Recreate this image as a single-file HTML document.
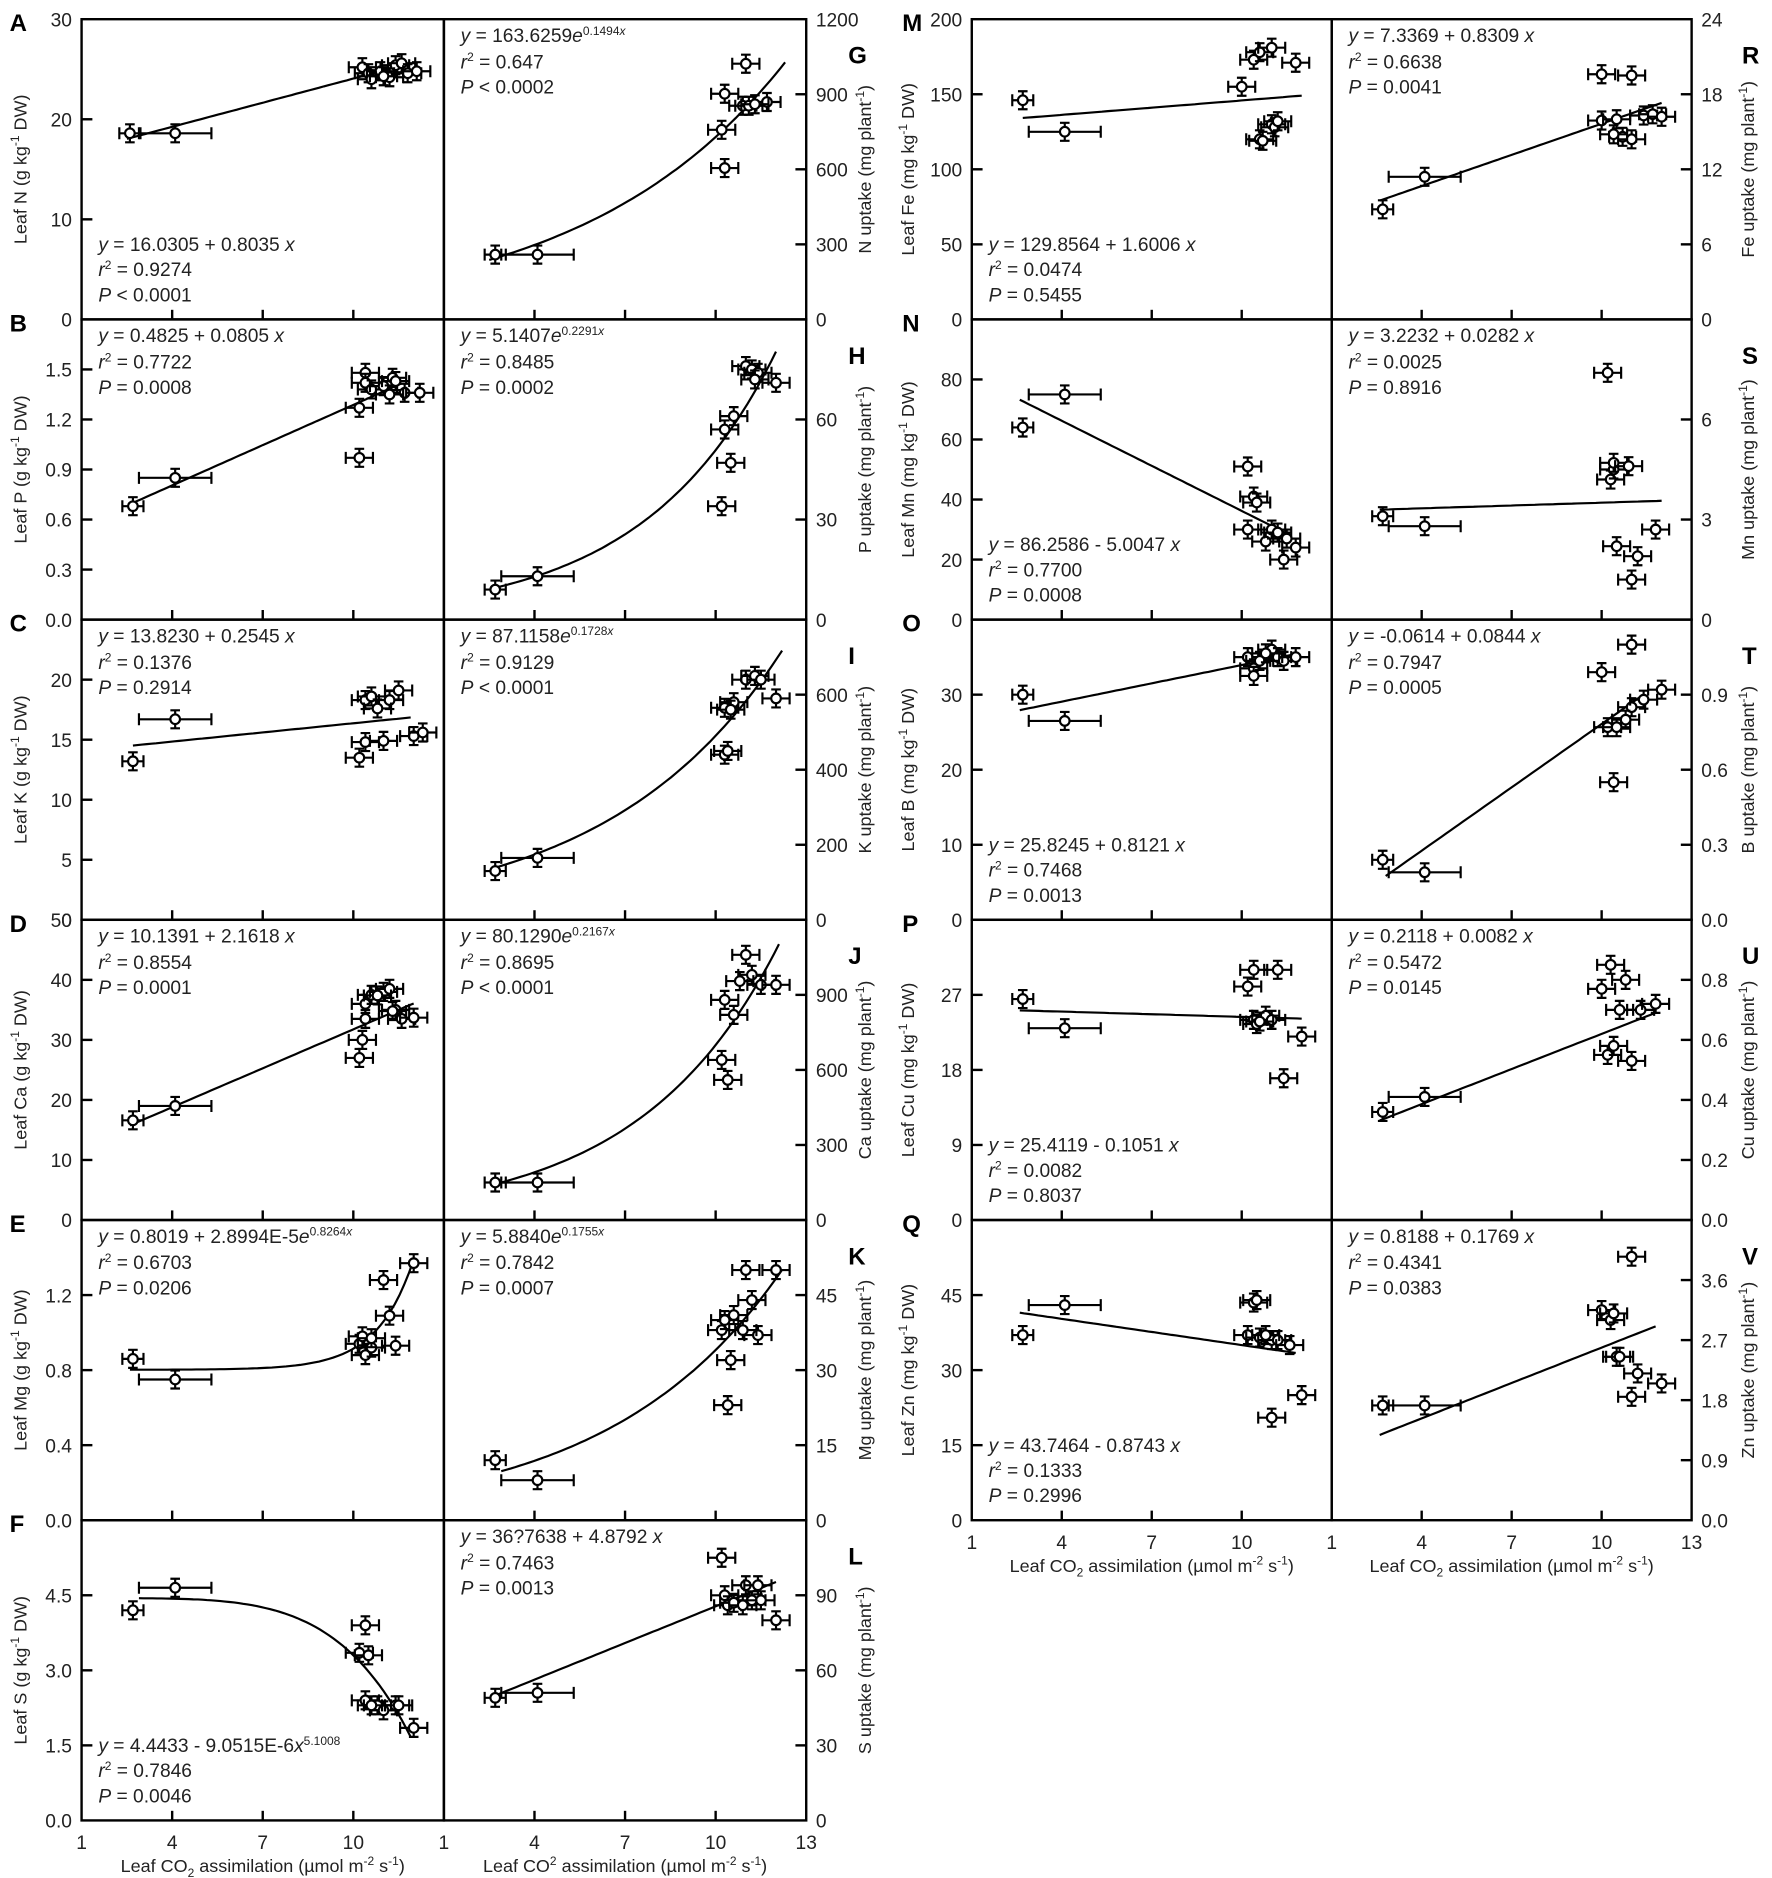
<!DOCTYPE html>
<html><head><meta charset="utf-8"><style>
html,body{margin:0;padding:0;background:#fff;}
svg{display:block;font-family:"Liberation Sans",Arial,sans-serif;}
</style></head><body>
<svg id="fig" width="1772" height="1878" viewBox="0 0 1477 1565" preserveAspectRatio="none" xmlns="http://www.w3.org/2000/svg"></svg>
<script>
// ---- data (x = leaf CO2 assimilation, y = nutrient value) ----
const ptsA=[[2.6,18.6],[4.1,18.6],[10.3,25.2],[10.5,24.6],[10.6,24.0],[10.9,24.8],[11.2,24.2],[11.4,25.4],[11.6,25.6],[11.8,24.6],[12.1,24.8],[11.0,24.3]];
const ptsG=[[2.7,259],[4.1,259],[11.0,1022],[10.3,902],[10.2,758],[10.3,605],[10.9,854],[11.1,854],[11.7,869],[11.3,860]];
const ptsB=[[2.7,0.68],[4.1,0.85],[10.2,1.27],[10.2,0.97],[10.4,1.48],[10.4,1.42],[10.6,1.38],[11.0,1.40],[11.3,1.45],[11.4,1.43],[11.7,1.36],[12.2,1.36],[11.2,1.35]];
const ptsH=[[2.7,9],[4.1,13],[10.2,34],[10.5,47],[10.3,57],[10.6,61],[11.0,76],[11.2,75],[11.4,74],[12.0,71],[11.3,72]];
const ptsC=[[2.7,13.2],[4.1,16.7],[10.2,13.5],[10.4,14.8],[10.4,18.3],[10.6,18.6],[11.0,14.9],[11.2,18.3],[11.5,19.1],[12.0,15.3],[12.3,15.6],[10.8,17.6]];
const ptsI=[[2.7,130],[4.1,165],[10.3,440],[10.4,450],[10.3,565],[10.6,580],[11.0,640],[11.3,650],[11.5,640],[12.0,590],[10.5,560]];
const ptsD=[[2.7,16.6],[4.1,19],[10.2,27],[10.3,30],[10.4,33.5],[10.4,36],[10.6,37.5],[11.0,38],[11.2,38.5],[11.4,35],[11.6,33.5],[12.0,33.7],[10.8,37.4],[11.3,34.8]];
const ptsJ=[[2.7,150],[4.1,150],[10.2,640],[10.4,560],[10.3,880],[10.6,820],[11.0,1060],[11.2,980],[11.5,940],[12.0,940],[10.8,955]];
const ptsE=[[2.7,0.86],[4.1,0.75],[10.2,0.94],[10.3,0.98],[10.4,0.88],[10.6,0.92],[11.0,1.28],[11.2,1.09],[11.4,0.93],[12.0,1.37],[10.6,0.97]];
const ptsK=[[2.7,12],[4.1,8],[10.2,38],[10.3,40],[10.5,32],[10.4,23],[10.6,41],[11.0,50],[11.2,44],[11.4,37],[12.0,50],[10.9,38]];
const ptsF=[[2.7,4.2],[4.1,4.65],[10.2,3.35],[10.4,3.9],[10.5,3.3],[10.4,2.4],[10.8,2.3],[11.0,2.2],[11.4,2.3],[11.5,2.3],[12.0,1.85],[10.6,2.3]];
const ptsL=[[2.7,49],[4.1,51],[10.2,105],[10.3,90],[10.4,86],[10.6,87],[11.0,94],[11.2,88],[11.4,94],[12.0,80],[11.5,88],[10.9,86]];
const ptsM=[[2.7,146],[4.1,125],[10.0,155],[10.4,173],[10.6,178],[11.0,181],[11.8,171],[11.0,130],[11.1,128],[10.6,120],[10.7,119],[11.2,132]];
const ptsR=[[2.7,8.8],[4.1,11.4],[10.0,19.6],[11.0,19.5],[10.0,15.9],[10.5,16.0],[10.7,14.6],[11.0,14.4],[11.4,16.3],[11.7,16.4],[12.0,16.2],[10.4,14.8]];
const ptsN=[[2.7,64],[4.1,75],[10.2,51],[10.4,41],[10.5,39],[10.2,30],[10.8,26],[11.0,30],[11.2,29],[11.4,20],[11.8,24],[11.5,27]];
const ptsS=[[2.7,3.1],[4.1,2.8],[10.2,7.4],[10.3,4.2],[10.4,4.5],[10.4,4.7],[10.9,4.6],[10.5,2.2],[11.2,1.9],[11.0,1.2],[11.8,2.7]];
const ptsO=[[2.7,30],[4.1,26.5],[10.2,35],[10.4,33.5],[10.4,32.5],[10.6,34.5],[11.0,36],[11.2,35],[11.4,34.5],[11.8,35],[10.8,35.5]];
const ptsT=[[2.7,0.24],[4.1,0.19],[10.0,0.99],[11.0,1.1],[10.2,0.77],[10.5,0.77],[10.4,0.55],[11.0,0.85],[11.4,0.88],[12.0,0.92],[10.8,0.80]];
const ptsP=[[2.7,26.5],[4.1,23],[10.2,28],[10.4,30],[10.4,24],[10.5,23.5],[10.8,24.5],[11.0,24],[11.2,30],[11.4,17],[12.0,22],[10.6,23.8]];
const ptsU=[[2.7,0.36],[4.1,0.41],[10.0,0.77],[10.3,0.85],[10.8,0.80],[10.2,0.55],[10.4,0.58],[11.0,0.53],[11.3,0.70],[11.8,0.72],[10.6,0.70]];
const ptsQ=[[2.7,37],[4.1,43],[10.2,37],[10.4,43.5],[10.5,44],[10.6,36.5],[11.0,36],[11.2,36],[11.6,35],[11.0,20.5],[12.0,25],[10.8,37]];
const ptsV=[[2.7,1.72],[4.1,1.72],[10.0,3.15],[10.3,3.0],[10.4,3.1],[10.5,2.45],[10.6,2.45],[11.0,3.95],[11.2,2.2],[11.0,1.85],[12.0,2.05]];
// fit parameters [type, params, xStart, xEnd]
const fitA=['lin',[16.0305,0.8035],2.5,11.6];
const fitG=['exp',[163.6259,0.1494],2.5,12.3];
const fitB=['lin',[0.4825,0.0805],2.7,11.6];
const fitH=['exp',[5.1407,0.2291],2.6,12.0];
const fitC=['lin',[13.823,0.2545],2.7,11.9];
const fitI=['exp',[87.1158,0.1728],2.6,12.2];
const fitD=['lin',[10.1391,2.1618],2.6,12.0];
const fitJ=['exp',[80.129,0.2167],2.6,12.1];
const fitE=['mg',[0.8019,2.8994e-5,0.8264],2.6,12.0];
const fitK=['exp',[5.884,0.1755],2.9,12.2];
const fitF=['pow',[4.4433,9.0515e-6,5.1008],2.9,11.9];
const fitL=['lin',[36.7638,4.8792],2.6,12.0];
const fitM=['lin',[129.8564,1.6006],2.7,12.0];
const fitR=['lin',[7.3369,0.8309],2.6,12.0];
const fitN=['lin',[86.2586,-5.0047],2.6,11.4];
const fitS=['lin',[3.2232,0.0282],2.6,12.0];
const fitO=['lin',[25.8245,0.8121],2.6,11.8];
const fitT=['lin',[-0.0614,0.0844],2.8,11.4];
const fitP=['lin',[25.4119,-0.1051],2.6,12.0];
const fitU=['lin',[0.23,0.039],2.6,11.8];
const fitQ=['lin',[43.7464,-0.8743],2.6,11.8];
const fitV=['lin',[0.8188,0.1769],2.6,11.8];
const xTickLabels=['1','4','7','10','13'];

const NS='http://www.w3.org/2000/svg';
const svg=document.getElementById('fig');
function mk(tag,attrs,parent){const e=document.createElementNS(NS,tag);for(const k in attrs)e.setAttribute(k,attrs[k]);(parent||svg).appendChild(e);return e;}
const I=s=>'<tspan font-style="italic">'+s+'</tspan>';
const R2=v=>I('r')+'<tspan dy="-6" font-size="10">2</tspan><tspan dy="6"> = '+v+'</tspan>';
const SUP=s=>'<tspan dy="-6" font-size="10">'+s+'</tspan><tspan dy="6">';

const P=[
 ['A',0,0,0,30,10,0,1,'Leaf N (g kg'+SUP('-1')+' DW)</tspan>',[I('y')+' = 16.0305 + 0.8035 '+I('x'),R2('0.9274'),I('P')+' &lt; 0.0001'],1,ptsA,fitA],
 ['G',0,0,1,1200,300,0,1,'N uptake (mg plant'+SUP('-1')+')</tspan>',[I('y')+' = 163.6259'+I('e')+SUP('0.1494'+I('x'))+'</tspan>',R2('0.647'),I('P')+' &lt; 0.0002'],0,ptsG,fitG],
 ['B',0,1,0,1.8,0.3,1,0,'Leaf P (g kg'+SUP('-1')+' DW)</tspan>',[I('y')+' = 0.4825 + 0.0805 '+I('x'),R2('0.7722'),I('P')+' = 0.0008'],0,ptsB,fitB],
 ['H',0,1,1,90,30,0,0,'P uptake (mg plant'+SUP('-1')+')</tspan>',[I('y')+' = 5.1407'+I('e')+SUP('0.2291'+I('x'))+'</tspan>',R2('0.8485'),I('P')+' = 0.0002'],0,ptsH,fitH],
 ['C',0,2,0,25,5,0,0,'Leaf K (g kg'+SUP('-1')+' DW)</tspan>',[I('y')+' = 13.8230 + 0.2545 '+I('x'),R2('0.1376'),I('P')+' = 0.2914'],0,ptsC,fitC],
 ['I',0,2,1,800,200,0,0,'K uptake (mg plant'+SUP('-1')+')</tspan>',[I('y')+' = 87.1158'+I('e')+SUP('0.1728'+I('x'))+'</tspan>',R2('0.9129'),I('P')+' &lt; 0.0001'],0,ptsI,fitI],
 ['D',0,3,0,50,10,0,1,'Leaf Ca (g kg'+SUP('-1')+' DW)</tspan>',[I('y')+' = 10.1391 + 2.1618 '+I('x'),R2('0.8554'),I('P')+' = 0.0001'],0,ptsD,fitD],
 ['J',0,3,1,1200,300,0,0,'Ca uptake (mg plant'+SUP('-1')+')</tspan>',[I('y')+' = 80.1290'+I('e')+SUP('0.2167'+I('x'))+'</tspan>',R2('0.8695'),I('P')+' &lt; 0.0001'],0,ptsJ,fitJ],
 ['E',0,4,0,1.6,0.4,1,0,'Leaf Mg (g kg'+SUP('-1')+' DW)</tspan>',[I('y')+' = 0.8019 + 2.8994E-5'+I('e')+SUP('0.8264'+I('x'))+'</tspan>',R2('0.6703'),I('P')+' = 0.0206'],0,ptsE,fitE],
 ['K',0,4,1,60,15,0,0,'Mg uptake (mg plant'+SUP('-1')+')</tspan>',[I('y')+' = 5.8840'+I('e')+SUP('0.1755'+I('x'))+'</tspan>',R2('0.7842'),I('P')+' = 0.0007'],0,ptsK,fitK],
 ['F',0,5,0,6,1.5,1,0,'Leaf S (g kg'+SUP('-1')+' DW)</tspan>',[I('y')+' = 4.4433 - 9.0515E-6'+I('x')+SUP('5.1008')+'</tspan>',R2('0.7846'),I('P')+' = 0.0046'],1,ptsF,fitF],
 ['L',0,5,1,120,30,0,0,'S uptake (mg plant'+SUP('-1')+')</tspan>',[I('y')+' = 36?7638 + 4.8792 '+I('x'),R2('0.7463'),I('P')+' = 0.0013'],0,ptsL,fitL],
 ['M',1,0,0,200,50,0,1,'Leaf Fe (mg kg'+SUP('-1')+' DW)</tspan>',[I('y')+' = 129.8564 + 1.6006 '+I('x'),R2('0.0474'),I('P')+' = 0.5455'],1,ptsM,fitM],
 ['R',1,0,1,24,6,0,1,'Fe uptake (mg plant'+SUP('-1')+')</tspan>',[I('y')+' = 7.3369 + 0.8309 '+I('x'),R2('0.6638'),I('P')+' = 0.0041'],0,ptsR,fitR],
 ['N',1,1,0,100,20,0,0,'Leaf Mn (mg kg'+SUP('-1')+' DW)</tspan>',[I('y')+' = 86.2586 - 5.0047 '+I('x'),R2('0.7700'),I('P')+' = 0.0008'],1,ptsN,fitN],
 ['S',1,1,1,9,3,0,0,'Mn uptake (mg plant'+SUP('-1')+')</tspan>',[I('y')+' = 3.2232 + 0.0282 '+I('x'),R2('0.0025'),I('P')+' = 0.8916'],0,ptsS,fitS],
 ['O',1,2,0,40,10,0,0,'Leaf B (mg kg'+SUP('-1')+' DW)</tspan>',[I('y')+' = 25.8245 + 0.8121 '+I('x'),R2('0.7468'),I('P')+' = 0.0013'],1,ptsO,fitO],
 ['T',1,2,1,1.2,0.3,1,0,'B uptake (mg plant'+SUP('-1')+')</tspan>',[I('y')+' = -0.0614 + 0.0844 '+I('x'),R2('0.7947'),I('P')+' = 0.0005'],0,ptsT,fitT],
 ['P',1,3,0,36,9,0,0,'Leaf Cu (mg kg'+SUP('-1')+' DW)</tspan>',[I('y')+' = 25.4119 - 0.1051 '+I('x'),R2('0.0082'),I('P')+' = 0.8037'],1,ptsP,fitP],
 ['U',1,3,1,1.0,0.2,1,0,'Cu uptake (mg plant'+SUP('-1')+')</tspan>',[I('y')+' = 0.2118 + 0.0082 '+I('x'),R2('0.5472'),I('P')+' = 0.0145'],0,ptsU,fitU],
 ['Q',1,4,0,60,15,0,0,'Leaf Zn (mg kg'+SUP('-1')+' DW)</tspan>',[I('y')+' = 43.7464 - 0.8743 '+I('x'),R2('0.1333'),I('P')+' = 0.2996'],1,ptsQ,fitQ],
 ['V',1,4,1,4.5,0.9,1,0,'Zn uptake (mg plant'+SUP('-1')+')</tspan>',[I('y')+' = 0.8188 + 0.1769 '+I('x'),R2('0.4341'),I('P')+' = 0.0383'],0,ptsV,fitV]
];
const COLS=[{L:68,D:370,R:672},{L:810,D:1110,R:1410}];
const TOP=16,RH=250.17;
function fitY(f,x){const p=f[1];if(f[0]==='lin')return p[0]+p[1]*x;if(f[0]==='exp')return p[0]*Math.exp(p[1]*x);if(f[0]==='mg')return p[0]+p[1]*Math.exp(p[2]*x);return p[0]-p[1]*Math.pow(x,p[2]);}

P.forEach(cfg=>{
 const [letter,col,row,half,ymax,step,dec,showTop,label,eq,eqBottom,pts,fit]=cfg;
 const C=COLS[col];
 const x0=half?C.D:C.L, x1=half?C.R:C.D;
 const top=TOP+row*RH, bot=top+RH;
 const sx=x=>x0+(x-1)/12*(x1-x0);
 const sy=v=>bot-v/ymax*(bot-top);
 const g=mk('g',{});
 
 
 const fr=mk('rect',{x:x0,y:top,width:x1-x0,height:bot-top,fill:'none',stroke:'#000','stroke-width':2},g);
 
 [4,7,10].forEach(t=>{const l=mk('line',{x1:sx(t),x2:sx(t),y1:bot,y2:bot-8,stroke:'#000','stroke-width':2},g);});
 const ax=half?x1:x0, dir=half?-1:1;
 const n=Math.round(ymax/step);
 for(let i=0;i<=n;i++){
  const v=i*step, y=sy(v);
  if(i>0&&i<n){const l=mk('line',{x1:ax,x2:ax+dir*9,y1:y,y2:y,stroke:'#000','stroke-width':2},g);}
  if(i===n&&!showTop)continue;
  const t=mk('text',{x:half?ax+8:ax-8,y:y+6,'font-size':16,fill:'#222','text-anchor':half?'start':'end'},g);
  t.textContent=v.toFixed(dec);
  
 }
 const tx=half?(col?1462:726):(col?762:22), ty=(top+bot)/2;
 const yt=mk('text',{x:tx,y:ty,'font-size':15,fill:'#222','text-anchor':'middle',transform:'rotate(-90 '+tx+' '+ty+')'},g);
 yt.innerHTML=label;
 
 const lx=half?(col?1452:707):(col?752:8), ly=half?top+37:top+10;
 const lt=mk('text',{x:lx,y:ly,'font-size':20,'font-weight':'bold',fill:'#000'},g);
 lt.textContent=letter;
 
 let d='';const N=60;
 for(let i=0;i<=N;i++){const x=fit[2]+(fit[3]-fit[2])*i/N;d+=(i?'L':'M')+sx(x).toFixed(1)+' '+sy(fitY(fit,x)).toFixed(1);}
 const fp=mk('path',{d:d,fill:'none',stroke:'#000','stroke-width':1.8},g);
 
 pts.forEach(p=>{
  const px=sx(p[0]),py=sy(p[1]);
  const xe=p[0]<3.5?0.35:(p[0]<5?1.2:0.45);
  const ye=ymax*0.03;
  const pg=mk('g',{stroke:'#000','stroke-width':1.8,fill:'#fff'},g);
  
  const xa=sx(p[0]-xe),xb=sx(p[0]+xe),ya=sy(p[1]+ye),yb=sy(p[1]-ye);
  mk('path',{d:`M${xa} ${py}H${xb}M${xa} ${py-5}V${py+5}M${xb} ${py-5}V${py+5}M${px} ${ya}V${yb}M${px-4} ${ya}H${px+4}M${px-4} ${yb}H${px+4}`,fill:'none'},pg);
  mk('circle',{cx:px,cy:py,r:4},pg);
 });
 const ex=x0+14;
 const eys=eqBottom?[bot-57,bot-36,bot-15]:[top+19,top+41,top+62];
 eq.forEach((s,i)=>{const t=mk('text',{x:ex,y:eys[i],'font-size':16,fill:'#222'},g);t.innerHTML=s;});
});
function xAxis(col,bot){
 const C=COLS[col];
 [[C.L,C.D],[C.D,C.R]].forEach((h,hi)=>{
  xTickLabels.forEach((lab,i)=>{
   if(i===4&&hi!==1)return;
   const v=+lab, x=h[0]+(v-1)/12*(h[1]-h[0]);
   const t=mk('text',{x:x,y:bot+24,'font-size':16,fill:'#222','text-anchor':'middle'});
   t.textContent=lab;
  });
  const t=mk('text',{x:(h[0]+h[1])/2,y:bot+43,'font-size':15,fill:'#222','text-anchor':'middle'});
  t.innerHTML='Leaf CO'+(col===0&&hi===1?'<tspan dy="-6" font-size="10">2</tspan><tspan dy="6">':'<tspan dy="4" font-size="10">2</tspan><tspan dy="-4">')+' assimilation (µmol m<tspan dy="-6" font-size="10">-2</tspan><tspan dy="6"> s</tspan><tspan dy="-6" font-size="10">-1</tspan><tspan dy="6">)</tspan></tspan>';
  
 });
}
xAxis(0,TOP+6*RH);
xAxis(1,TOP+5*RH);
</script>
</body></html>
